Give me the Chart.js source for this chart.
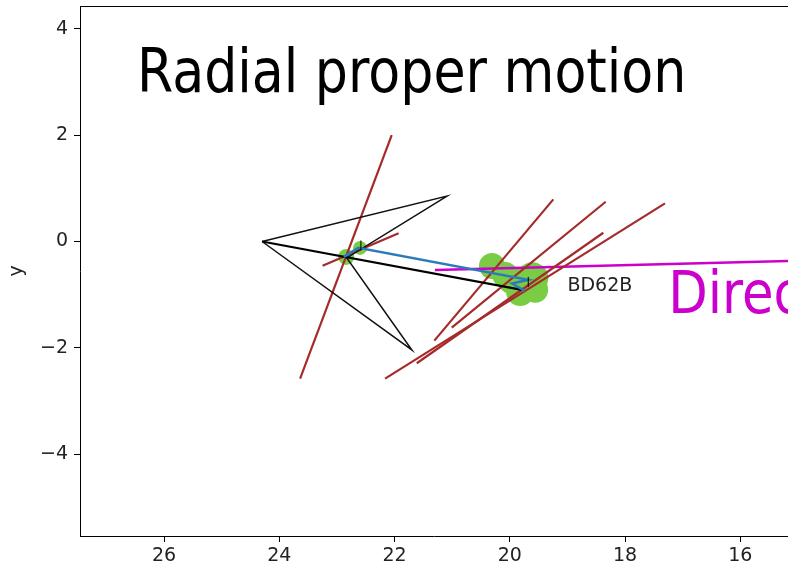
<!DOCTYPE html>
<html>
<head>
<meta charset="utf-8">
<script src="https://cdn.jsdelivr.net/npm/chart.js@4.4.0/dist/chart.umd.min.js"></script>
<style>
  html, body { margin: 0; padding: 0; background: #fff; overflow: hidden; }
  canvas { display: block; }
</style>
</head>
<body>
<canvas id="motionChart" width="788" height="573"></canvas>
<script>
// tick labels
const xTicks = [26, 24, 22, 20, 18, 16];
const yTicks = [4, 2, 0, -2, -4];

// thin black arrow outline
const arrowX = [24.30, 21.09, 22.83, 21.70, 24.30];
const arrowY = [0.00, 0.855, -0.31, -2.04, 0.00];

// thick black track
const trackX = [24.30, 19.79];
const trackY = [0.00, -0.91];

// blue path with hook at the end
const blueX = [22.88, 22.63, 19.68, 19.96, 19.74];
const blueY = [-0.29, -0.12, -0.72, -0.79, -0.93];

// red segments, one pair of ends each
const redX = [[22.05, 23.64], [21.93, 23.25], [19.245, 21.31], [18.336, 21.008], [18.377, 21.615], [17.307, 22.165]];
const redY = [[2.00, -2.58], [0.154, -0.455], [0.793, -1.865], [0.748, -1.62], [0.165, -2.29], [0.718, -2.58]];

// magenta direction line
const dirX = [21.30, 13.5];
const dirY = [-0.536, -0.32];

// green blobs
const blobX = [20.31, 20.08, 19.96, 19.61, 19.82, 19.56, 22.84, 22.60];
const blobY = [-0.46, -0.63, -0.73, -0.69, -0.95, -0.91, -0.29, -0.12];
const blobR = [13, 13, 14, 16, 14, 13, 8, 7];

// small vertical markers
const markX = [19.68, 22.585];
const markY = [-0.76, -0.075];

// text labels
const labels = [
    { text: 'Radial proper motion', x: 26.47, y: 2.81, size: 60, color: '#000', squeeze: 0.87 },
    { text: 'Direction', x: 17.25, y: -1.34, size: 59, color: '#cc00cc', squeeze: 0.87 },
    { text: 'BD62B', x: 19.0, y: -0.93, size: 19, color: '#222', squeeze: 1 }
];

const toPoints = (xs, ys) => xs.map((v, i) => ({ x: v, y: ys[i] }));

const lineSet = (xs, ys, color, width, order) => ({
    data: toPoints(xs, ys),
    showLine: true,
    borderColor: color,
    borderWidth: width,
    pointRadius: 0,
    fill: false,
    tension: 0,
    order: order
});

const datasets = [
    lineSet(arrowX, arrowY, '#111', 1.5, 3),
    lineSet(trackX, trackY, '#000', 2.2, 2),
    lineSet(blueX, blueY, '#2b7bba', 2.5, 1),
    lineSet(dirX, dirY, '#cc00cc', 2.5, 5)
];
redX.forEach((xs, i) => datasets.push(lineSet(xs, redY[i], '#a52a2a', 2.2, 4)));
datasets.push({
    data: toPoints(markX, markY),
    pointStyle: 'line',
    rotation: 90,
    pointRadius: 5,
    borderColor: '#000',
    borderWidth: 1,
    order: 0
});
datasets.push({
    data: toPoints(blobX, blobY),
    pointRadius: blobR,
    backgroundColor: '#7acc44',
    borderWidth: 0,
    order: 10
});

const frameAndText = {
    id: 'frameAndText',
    afterDatasetsDraw(chart) {
        const { ctx, chartArea: a, scales: { x, y } } = chart;
        ctx.save();
        ctx.strokeStyle = '#000';
        ctx.lineWidth = 1;
        ctx.beginPath();
        ctx.moveTo(a.left, a.top + 0.5);
        ctx.lineTo(a.right, a.top + 0.5);
        ctx.stroke();

        ctx.beginPath();
        ctx.rect(a.left, a.top, a.right - a.left, a.bottom - a.top);
        ctx.clip();
        labels.forEach(l => {
            ctx.save();
            ctx.translate(x.getPixelForValue(l.x), y.getPixelForValue(l.y));
            ctx.scale(l.squeeze, 1);
            ctx.font = l.size + 'px "DejaVu Sans"';
            ctx.fillStyle = l.color;
            ctx.textBaseline = 'alphabetic';
            ctx.textAlign = 'left';
            ctx.fillText(l.text, 0, 0);
            ctx.restore();
        });
        ctx.restore();
    }
};

const tickFont = { family: 'DejaVu Sans', size: 19 };

new Chart(document.getElementById('motionChart'), {
    type: 'scatter',
    data: { datasets: datasets },
    options: {
        responsive: false,
        animation: false,
        layout: { autoPadding: false, padding: { top: 6, right: 0, bottom: 0, left: 0 } },
        plugins: {
            legend: { display: false },
            tooltip: { enabled: false }
        },
        scales: {
            x: {
                type: 'linear',
                reverse: true,
                min: 15.172,
                max: 27.46,
                afterBuildTicks: s => { s.ticks = xTicks.map(v => ({ value: v })); },
                afterFit: s => { s.height = 37; s.paddingLeft = 0; s.paddingRight = 0; },
                grid: { drawOnChartArea: false, tickLength: 6, tickColor: '#000' },
                border: { color: '#000', width: 1 },
                ticks: {
                    font: tickFont,
                    color: '#222',
                    padding: 3,
                    maxRotation: 0,
                    callback: v => String(v).replace('-', '\u2212')
                }
            },
            y: {
                type: 'linear',
                min: -5.54,
                max: 4.43,
                afterBuildTicks: s => { s.ticks = yTicks.map(v => ({ value: v })); },
                afterFit: s => { s.width = 80; s.paddingTop = 0; s.paddingBottom = 0; },
                grid: { drawOnChartArea: false, tickLength: 6, tickColor: '#000' },
                border: { color: '#000', width: 1 },
                title: { display: true, text: 'y', font: tickFont, color: '#222', padding: 6 },
                ticks: {
                    font: tickFont,
                    color: '#222',
                    padding: 6,
                    callback: v => String(v).replace('-', '\u2212')
                }
            }
        }
    },
    plugins: [frameAndText]
});
</script>
</body>
</html>
